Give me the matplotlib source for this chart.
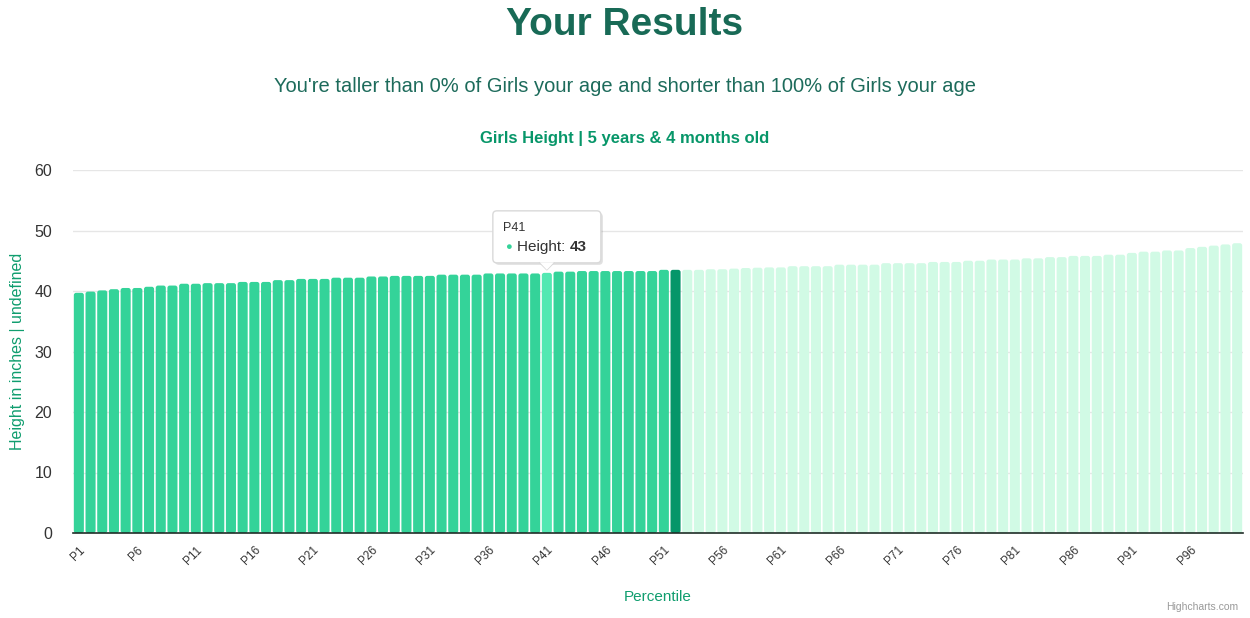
import matplotlib
matplotlib.use("Agg")
import matplotlib.pyplot as plt
from matplotlib.patches import FancyBboxPatch, Polygon
from matplotlib.transforms import IdentityTransform

plt.rcParams['font.family'] = ['Liberation Sans', 'DejaVu Sans']

percentiles = ['P%d' % i for i in range(1, 101)]
heights = [
    39.7, 39.9, 40.1, 40.3, 40.5, 40.5, 40.7, 40.9, 40.9, 41.2,
    41.2, 41.3, 41.3, 41.3, 41.5, 41.5, 41.5, 41.8, 41.8, 42.0,
    42.0, 42.0, 42.2, 42.2, 42.2, 42.4, 42.4, 42.5, 42.5, 42.5,
    42.5, 42.7, 42.7, 42.7, 42.7, 42.9, 42.9, 42.9, 42.9, 42.9,
    43.0, 43.2, 43.2, 43.3, 43.3, 43.3, 43.3, 43.3, 43.3, 43.3,
    43.5, 43.5, 43.5, 43.5, 43.6, 43.6, 43.7, 43.8, 43.85, 43.9,
    43.9, 44.1, 44.1, 44.1, 44.1, 44.35, 44.35, 44.35, 44.35, 44.6,
    44.6, 44.6, 44.6, 44.8, 44.8, 44.8, 45.0, 45.0, 45.2, 45.2,
    45.2, 45.4, 45.4, 45.6, 45.6, 45.8, 45.8, 45.8, 46.0, 46.0,
    46.3, 46.5, 46.5, 46.7, 46.7, 47.1, 47.3, 47.5, 47.7, 47.9,
]
user_idx = 51      # dark bar
hover_idx = 40     # P41, tooltip
hover_value = 43

colors = []
for i in range(len(heights)):
    if i == hover_idx:
        colors.append('#52e8b2')
    elif i < user_idx:
        colors.append('#34d399')
    elif i == user_idx:
        colors.append('#059669')
    else:
        colors.append('#d1fae5')

fig = plt.figure(figsize=(12.5, 6.18), dpi=100)
ax = fig.add_axes([73 / 1250, 1 - 533 / 618, 1170 / 1250, 363 / 618])

x = list(range(len(heights)))
bars = ax.bar(x, heights, width=0.86, color=colors, zorder=3)

ax.set_xlim(-0.5, len(heights) - 0.5)
ax.set_ylim(0, 60)

# rounded bar tops, built from the bar rectangles
aspect = (1170 / 100) / (363 / 60)
for r in bars:
    fb = FancyBboxPatch(r.get_xy(), r.get_width(), r.get_height(),
                        boxstyle='round,pad=0,rounding_size=0.2', mutation_aspect=aspect,
                        facecolor=r.get_facecolor(), edgecolor='none', zorder=3)
    ax.add_patch(fb)
    r.remove()

ax.set_yticks(range(0, 61, 10))
ax.grid(axis='y', color='#e6e6e6', lw=1, zorder=0)
for s in ['top', 'right', 'left']:
    ax.spines[s].set_visible(False)
ax.spines['bottom'].set_color('#1f2d27')
ax.spines['bottom'].set_linewidth(1.2)
ax.spines['bottom'].set_zorder(4)
ax.tick_params(axis='y', length=0, labelsize=11.5, labelcolor='#333333', pad=15)
ax.set_xticks(x[::5])
ax.set_xticklabels(percentiles[::5], rotation=45, ha='right',
                   rotation_mode='anchor', fontsize=8.5, color='#333333')
ax.tick_params(axis='x', length=0, pad=8)

ax.set_xlabel('Percentile', color='#0f9d6e', fontsize=11, labelpad=16)
fig.text(18 / 1250, 1 - 351 / 618, 'Height in inches | undefined', rotation=90,
         ha='center', va='center', color='#0f9d6e', fontsize=11.5)

fig.text(0.5, 1 - 25 / 618, 'Your Results', ha='center', va='center',
         fontsize=28, fontweight='bold', color='#186a56')
fig.text(0.5, 1 - 86 / 618, "You're taller than 0% of Girls your age and shorter than 100% of Girls your age",
         ha='center', va='center', fontsize=14.5, color='#1d6b5b')
fig.text(0.5, 1 - 138 / 618, 'Girls Height | 5 years & 4 months old', ha='center', va='center',
         fontsize=12, fontweight='bold', color='#079669')
fig.text(1 - 12 / 1250, 1 - 607 / 618, 'Highcharts.com', ha='right', va='center',
         fontsize=7.5, color='#999999')

# tooltip (display pixel coords, anchored to the hovered bar)
fig.canvas.draw()
px, py = ax.transData.transform((hover_idx, hover_value))
ident = IdentityTransform()
shadow = FancyBboxPatch((px - 52, py + 8), 108, 52, boxstyle='round,pad=0,rounding_size=4',
                        transform=ident, facecolor='#000000', alpha=0.12, edgecolor='none', zorder=9)
fig.patches.append(shadow)
box = FancyBboxPatch((px - 54, py + 10), 108, 52, boxstyle='round,pad=0,rounding_size=4',
                     transform=ident, facecolor='white', edgecolor='#d9d9d9', lw=1, zorder=10)
fig.patches.append(box)
tip = Polygon([(px - 7, py + 10.5), (px, py + 3), (px + 7, py + 10.5)], closed=True,
              transform=ident, facecolor='white', edgecolor='none', zorder=11)
fig.patches.append(tip)
tip_edge = plt.Line2D([px - 7, px, px + 7], [py + 10, py + 3, py + 10], transform=ident,
                      color='#d9d9d9', lw=1, zorder=11)
fig.lines.append(tip_edge)

W, H = fig.bbox.width, fig.bbox.height
fig.text((px - 44) / W, (py + 45) / H, percentiles[hover_idx], fontsize=9,
         color='#333333', va='center', ha='left', zorder=12)
fig.text((px - 38) / W, (py + 26) / H, '\u25cf', fontsize=8, color='#34d399',
         va='center', ha='center', zorder=12)
t = fig.text((px - 30) / W, (py + 26) / H, 'Height: ', fontsize=11,
             color='#333333', va='center', ha='left', zorder=12)
fig.canvas.draw()
bb = t.get_window_extent()
fig.text(bb.x1 / W, (py + 26) / H, str(hover_value), fontsize=11, fontweight='bold',
         color='#333333', va='center', ha='left', zorder=12)

fig.savefig('out.png', dpi=100)
